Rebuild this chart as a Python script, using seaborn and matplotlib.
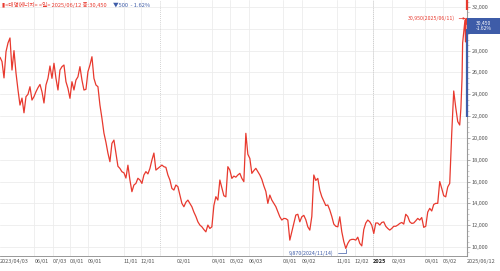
import matplotlib
matplotlib.use("Agg")
import matplotlib.pyplot as plt
import matplotlib.transforms as mtransforms
from matplotlib.patches import Rectangle
from matplotlib.ticker import MultipleLocator, FuncFormatter
import seaborn as sns
import pandas as pd

# ---------------- data ----------------
start_date = "2023-04-03"
bulk_end_date = "2025-05-31"
bulk_close = [
    27390, 27000, 25500, 27900, 28700, 29160, 26220, 28000, 25950, 24400,
    23010, 23650, 22300, 23780, 24000, 24690, 23470, 23780, 24230, 24600,
    24900, 24230, 23200, 24850, 25460, 26590, 25460, 26840, 25460, 24390,
    26220, 26530, 26680, 25150, 24540, 23630, 25150, 24390, 25300, 25600,
    26530, 25300, 24390, 24450, 26070, 26680, 27440, 25460, 24850, 24690,
    23010, 21800, 20440, 19600, 18600, 17820, 19500, 19800, 18610, 17400,
    17200, 16900, 16800, 16320, 17500, 16140, 15070, 15680, 15830, 16300,
    16140, 15830, 16600, 16910, 16700, 17200, 17970, 18610, 17050, 17200,
    17360, 17510, 17360, 17300, 16600, 16140, 15370, 15220, 15680, 15530,
    14760, 14000, 13690, 14100, 14300, 14000, 13690, 13200, 12800, 12310,
    12010, 11850, 11600, 11390, 12010, 11700, 11850, 13800, 14610, 14300,
    16140, 15400, 14700, 14600, 17360, 17050, 16290, 16500, 16400, 16600,
    16750, 16290, 15990, 20420, 18500, 18120, 16750, 17000, 17210, 16900,
    16600, 16200, 15600, 15100, 14000, 14760, 14300, 14000, 13700, 13240,
    12770, 12470, 12620, 12600, 12470, 10630, 11390, 12160, 12930, 13000,
    12310, 12770, 12900, 12500, 11850, 11550, 12800, 16600, 16100, 16290,
    15200, 14610, 14200, 13800, 13850, 13390, 12800, 12100, 11900, 11850,
    12770, 11400, 10500, 9870, 10330, 10630, 10700, 10700, 10630, 10900,
    10330, 10100, 11600, 12200, 12470, 12310, 12000, 11240, 12200, 12200,
    12010, 12250, 12300, 11900, 11700, 11550, 11700, 11900, 11900, 12010,
    12160, 12250, 12100, 13000, 12800, 12310, 12160, 12200, 12400, 12620,
    12470, 12700, 11800, 11900, 13200, 13540, 13300, 13900, 14000, 14000,
    16000, 15370, 14700, 14600, 15500, 15830, 20400, 24300, 22800, 21500,
    21180,
]
tail_dates = ["2025-06-02", "2025-06-04", "2025-06-05", "2025-06-09",
              "2025-06-10", "2025-06-11", "2025-06-12"]
tail_close = [22700, 25500, 28700, 30800, 28800, 30950, 30450]

last_close = 30450
change = -500
change_pct = -1.62
high_label_date = "2025/06/11"
low_label_date = "2024/11/14"

tick_dates = ["2023-04-03", "2023-06-01", "2023-07-03", "2023-08-01", "2023-09-01",
              "2023-11-01", "2023-12-01", "2024-02-01", "2024-04-01", "2024-05-02",
              "2024-06-03", "2024-08-01", "2024-09-02", "2024-11-01", "2024-12-02",
              "2025-01-02", "2025-02-03", "2025-04-01", "2025-05-02", "2025-06-12"]
tick_labels = ["2023/04/03", "06/01", "07/03", "08/01", "09/01",
               "11/01", "12/01", "02/01", "04/01", "05/02",
               "06/03", "08/01", "09/02", "11/01", "12/02",
               "2025", "02/03", "04/01", "05/02", "2025/06/12"]
year_marks = ["2024-01-02", "2025-01-02"]
y_ticks = [10000, 12000, 14000, 16000, 18000, 20000, 22000,
           24000, 26000, 28000, 30000, 32000]
y_hidden_label = 30000   # covered by the current-price box

# ---------------- frame ----------------
bulk_dates = pd.date_range(start_date, bulk_end_date, periods=len(bulk_close))
df = pd.DataFrame({
    "date": list(bulk_dates) + list(pd.to_datetime(tail_dates)),
    "close": bulk_close + tail_close,
})

# ---------------- style ----------------
sns.set_theme(style="white")
plt.rcParams['font.family'] = ['Noto Sans CJK KR', 'DejaVu Sans']
plt.rcParams['axes.unicode_minus'] = False

RED = "#E8392E"
BLUE = "#3E5CA8"
GRID = "#ececec"
TXT = "#555555"

fig = plt.figure(figsize=(5.0, 2.71), dpi=100)
ax = fig.add_axes([0.0, 1 - 256 / 271, 467 / 500, 256 / 271])
ax.set_facecolor("white")

sns.lineplot(data=df, x="date", y="close", ax=ax, color=RED, linewidth=0.9)

x0 = pd.Timestamp(start_date)
x1 = pd.Timestamp(tail_dates[-1]) + pd.Timedelta(hours=12)
ax.set_xlim(x0, x1)
ax.set_ylim(9175, 32640)

# grid
for yv in y_ticks:
    ax.axhline(yv, color=GRID, lw=0.6, zorder=0)
for d in tick_dates[1:-1]:
    ax.axvline(pd.Timestamp(d), color=GRID, lw=0.6, zorder=0)
for d in year_marks:
    ax.axvline(pd.Timestamp(d), color="#c4c4c4", lw=0.6, ls=(0, (1, 1.5)), zorder=0)

# axes
ax.set_xlabel("")
ax.set_ylabel("")
for s in ["top", "left"]:
    ax.spines[s].set_visible(False)
ax.spines["right"].set_color("#999999")
ax.spines["right"].set_linewidth(0.8)
ax.spines["bottom"].set_color("#888888")
ax.spines["bottom"].set_linewidth(0.6)

ax.yaxis.tick_right()
ax.set_yticks(y_ticks)
ax.yaxis.set_major_formatter(
    FuncFormatter(lambda v, p: "" if int(v) == y_hidden_label else f"{int(v):,}"))
ax.yaxis.set_minor_locator(MultipleLocator(500))
ax.tick_params(axis="y", which="major", length=2.5, width=0.5, color="#888888",
               labelsize=4.0, labelcolor=TXT, pad=1.0)
ax.tick_params(axis="y", which="minor", right=True, length=1.2, width=0.4, color="#aaaaaa")

ax.set_xticks(pd.to_datetime(tick_dates))
ax.set_xticklabels(tick_labels)
ax.tick_params(axis="x", length=0, labelsize=4.0, labelcolor=TXT, pad=2.5)
for lab in ax.get_xticklabels():
    lab.set_horizontalalignment("left")
    if lab.get_text() == "2025":
        lab.set_fontweight("bold")
        lab.set_color("#222222")

# right-axis markers
tr = mtransforms.blended_transform_factory(ax.transAxes, ax.transData)
ax.plot([1.0, 1.0], [32640, 31700], transform=tr, color=RED, lw=1.6,
        clip_on=False, solid_capstyle="butt", zorder=5)
ax.plot([1.0, 1.0], [30000, 21900], transform=tr, color=BLUE, lw=1.6,
        clip_on=False, solid_capstyle="butt", zorder=5)
box_w = 33 / 467
ax.add_patch(Rectangle((1.0, 29550), box_w, 1450, transform=tr, facecolor=BLUE,
                       edgecolor="none", clip_on=False, zorder=6))
ax.text(1.0 + box_w / 2, 30270, f"{last_close:,}\n{change_pct:.2f}%",
        transform=tr, ha="center", va="center", color="white",
        fontsize=3.6, linespacing=0.95, zorder=7, clip_on=False)

# high / low annotations
hi_idx = df["close"].idxmax()
lo_idx = df["close"].idxmin()
hi_d, hi_v = df.loc[hi_idx, "date"], df.loc[hi_idx, "close"]
lo_d, lo_v = df.loc[lo_idx, "date"], df.loc[lo_idx, "close"]
ax.annotate(f"{hi_v:,}({high_label_date})", xy=(hi_d, hi_v), xytext=(-11, 0),
            textcoords="offset pixels", ha="right", va="center", color=RED,
            fontsize=3.8,
            arrowprops=dict(arrowstyle="-|>", color=RED, lw=0.5,
                            mutation_scale=3, shrinkA=0.5, shrinkB=0.5))
ax.annotate(f"{lo_v:,}({low_label_date})", xy=(lo_d, lo_v), xytext=(-12, -5),
            textcoords="offset pixels", ha="right", va="center", color=BLUE,
            fontsize=3.8,
            arrowprops=dict(arrowstyle="-", color=BLUE, lw=0.5,
                            connectionstyle="angle,angleA=0,angleB=90,rad=0",
                            shrinkA=0.5, shrinkB=0.5))

# title line
t1 = fig.text(0.004, 1 - 5.5 / 271, f"▮<대명에너지> <일> 2025/06/12 종:{last_close:,}",
              color=RED, fontsize=4.1, ha="left", va="center",
              family=['Noto Sans CJK KR', 'DejaVu Sans'])
fig.canvas.draw()
bb = t1.get_window_extent()
arrow = "▼" if change < 0 else "▲"
fig.text((bb.x1 + 6) / fig.bbox.width, 1 - 5.5 / 271,
         f"{arrow}{abs(change):,}  - {abs(change_pct):.2f}%",
         color=BLUE, fontsize=4.1, ha="left", va="center",
         family=['Noto Sans CJK KR', 'DejaVu Sans'])

fig.savefig("out.png", dpi=100, facecolor="white")
